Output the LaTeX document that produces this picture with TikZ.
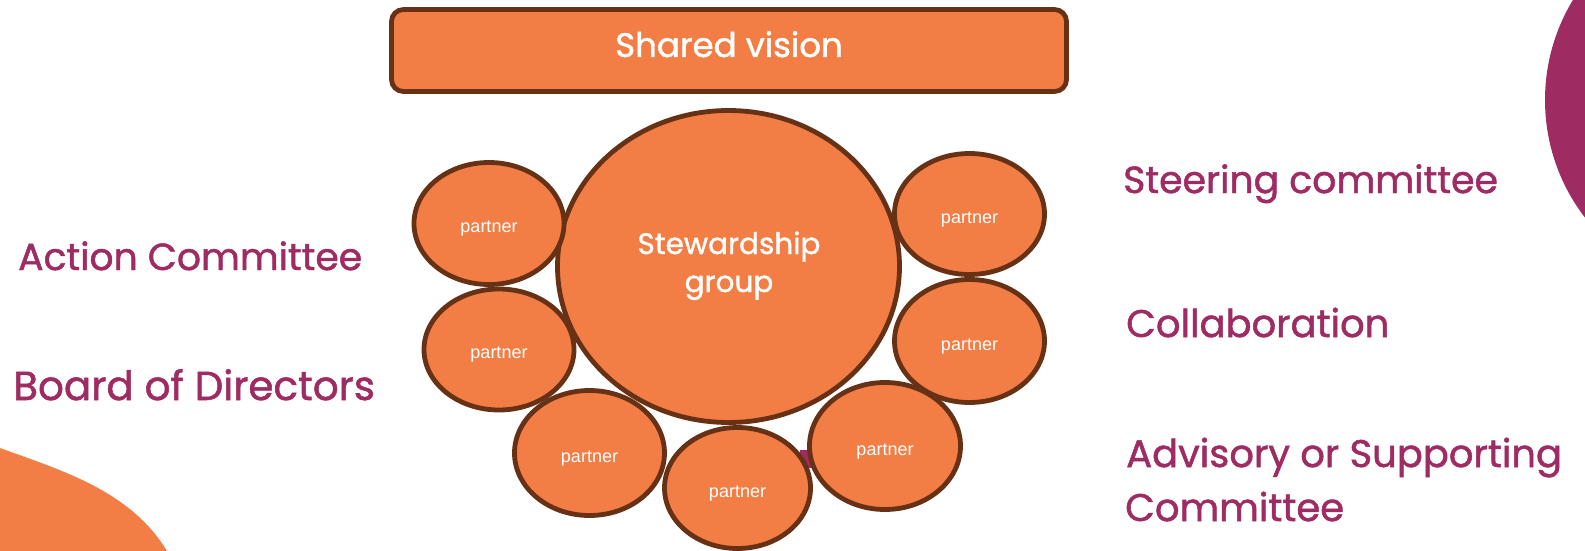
\documentclass[tikz,border=0pt]{standalone}
\usepackage{fontspec}
\setmainfont{Poppins}[FakeBold=1.3]
\newfontfamily\partnerfont{Liberation Sans}
\usetikzlibrary{shapes.geometric}
\definecolor{orng}{HTML}{F37E45}
\definecolor{brwn}{HTML}{673116}
\definecolor{plum}{HTML}{9E2B62}
\begin{document}
\begin{tikzpicture}[x=1pt,y=-1pt,
  bubble/.style={ellipse, draw=brwn, fill=orng, line width=4.8pt, inner sep=0pt},
  partner/.style={bubble, font=\partnerfont\fontsize{18}{21}\selectfont, text=white, text height=21pt, text depth=3pt},
  lbl/.style={anchor=base west, text=plum, font=\fontsize{38.5}{44}\selectfont, inner sep=0pt},
  wtxt/.style={anchor=base, text=white, inner sep=0pt}]
\useasboundingbox (0,0) rectangle (1585,551);
% background decorations
\fill[orng] (0,448) .. controls (60,470) and (130,490) .. (167,551) -- (0,551) -- cycle;
\fill[plum] (1738,100) circle (193);
\fill[plum] (800,450) rectangle (812,468);
% shared vision
\node[draw=brwn, fill=orng, line width=4.8pt, rounded corners=12pt, minimum width=675pt, minimum height=82pt, inner sep=0pt] (vision) at (729,50.5) {};
\node[wtxt, font=\fontsize{34}{40}\selectfont] (visiontext) at (vision.center |- 0,57) {Shared vision};
% partners
\node[partner, minimum width=146pt, minimum height=121pt] (p4) at (737.5,488) {partner};
\node[bubble, minimum width=342pt, minimum height=312pt] (steward) at (728.5,266.5) {};
\node[wtxt, font=\fontsize{29.5}{36}\selectfont] (stewtxt1) at (729,254) {Stewardship};
\node[wtxt, font=\fontsize{29.5}{36}\selectfont] (stewtxt2) at (729,292) {group};
\node[partner, minimum width=150pt, minimum height=122pt] (p1) at (489,223.5) {partner};
\node[partner, minimum width=150pt, minimum height=121pt] (p2) at (499,349.5) {partner};
\node[partner, minimum width=150pt, minimum height=125pt] (p3) at (589.5,453) {partner};
\node[partner, minimum width=151pt, minimum height=127pt] (p5) at (885,446) {partner};
\node[partner, minimum width=150pt, minimum height=123pt] (p6) at (969.5,341) {partner};
\node[partner, minimum width=150pt, minimum height=121pt] (p7) at (969.5,214) {partner};
% labels
\node[lbl, font=\fontsize{37.7}{44}\selectfont] (action) at (18,270) {Action Committee};
\node[lbl, font=\fontsize{40.5}{44}\selectfont] (board) at (13,400) {Board of Directors};
\node[lbl, font=\fontsize{37.8}{44}\selectfont] (steering) at (1123,193) {Steering committee};
\node[lbl] (collab) at (1126,337) {Collaboration};
\node[lbl] (advisory) at (1126,467) {Advisory or Supporting};
\node[lbl] (committee) at (1125,521) {Committee};
\end{tikzpicture}
\end{document}
